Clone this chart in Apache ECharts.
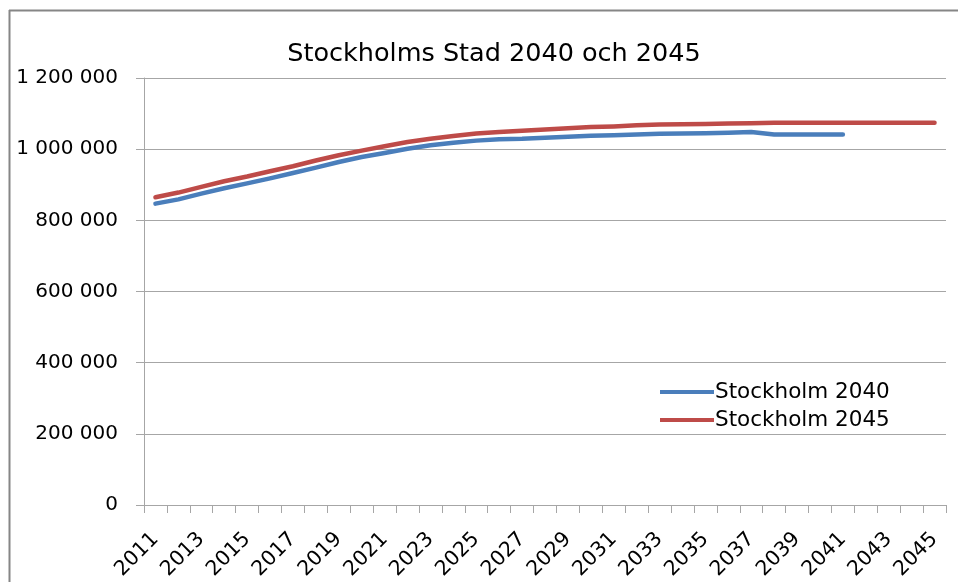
<!DOCTYPE html>
<html>
<head>
<meta charset="utf-8">
<script src="https://cdn.jsdelivr.net/npm/echarts@6/dist/echarts.min.js"></script>
<style>
  html, body { margin: 0; padding: 0; background: #ffffff; }
  #chart { width: 958px; height: 582px; }
</style>
</head>
<body>
<div id="chart"></div>
<script>
// data
var years = [];
for (var y = 2011; y <= 2045; y++) years.push(String(y));

var stockholm2040 = [
  847000, 859000, 875000, 890000, 904000, 918000, 933000, 948000, 964000, 978000,
  989000, 1001000, 1011000, 1018000, 1024000, 1028000, 1029000, 1032000, 1035000, 1038000,
  1039000, 1041000, 1043000, 1044000, 1045000, 1046000, 1048000, 1041000, 1041000, 1041000,
  1041000
];
var stockholm2045 = [
  865000, 878000, 894000, 910000, 923000, 938000, 952000, 968000, 983000, 996000,
  1008000, 1020000, 1029000, 1037000, 1044000, 1048000, 1052000, 1055000, 1059000, 1062000,
  1064000, 1067000, 1069000, 1070000, 1071000, 1072000, 1073000, 1074000, 1074000, 1074000,
  1074000, 1074000, 1074000, 1074000, 1074000
];
var yMax = 1200000;
var yStep = 200000;

var font = "'DejaVu Sans', sans-serif";
var gridColor = "#a6a6a6";
var frameColor = "#868686";

function fmt(v) {
  return String(v).replace(/\B(?=(\d{3})+(?!\d))/g, " ");
}

var chart = echarts.init(document.getElementById("chart"));
chart.setOption({
  backgroundColor: "#ffffff",
  animation: false,
  textStyle: { fontFamily: font },
  title: {
    text: "Stockholms Stad 2040 och 2045",
    left: 489,
    textAlign: "center",
    top: 36,
    textStyle: { fontFamily: font, fontSize: 25.5, fontWeight: "normal", color: "#000000" }
  },
  // chart frame: only the left and top edges fall inside the picture
  graphic: [
    {
      type: "line",
      shape: { x1: 9.5, y1: 10, x2: 9.5, y2: 600 },
      style: { stroke: frameColor, lineWidth: 2 },
      silent: true
    },
    {
      type: "line",
      shape: { x1: 9, y1: 10.5, x2: 970, y2: 10.5 },
      style: { stroke: frameColor, lineWidth: 2 },
      silent: true
    }
  ],
  legend: {
    orient: "vertical",
    left: 655,
    top: 376,
    itemWidth: 54,
    itemHeight: 4,
    itemGap: 6,
    icon: "rect",
    textStyle: { fontFamily: font, fontSize: 21.5, color: "#000000", padding: [0, 0, 0, -4] },
    data: ["Stockholm 2040", "Stockholm 2045"]
  },
  grid: {
    left: 144, right: 12, top: 78, bottom: 77,
    containLabel: false,
    outerBoundsMode: "none"
  },
  xAxis: {
    type: "category",
    data: years,
    boundaryGap: true,
    axisLine: { lineStyle: { color: gridColor, width: 1 } },
    axisTick: { show: true, interval: 0, length: 8, lineStyle: { color: gridColor } },
    axisLabel: {
      interval: 1,
      rotate: 45,
      margin: 31,
      fontFamily: font,
      fontSize: 20.5,
      color: "#000000"
    },
    splitLine: { show: false }
  },
  yAxis: {
    type: "value",
    min: 0,
    max: yMax,
    interval: yStep,
    axisLine: { show: true, lineStyle: { color: gridColor, width: 1 } },
    axisTick: { show: true, length: 8, lineStyle: { color: gridColor } },
    axisLabel: {
      margin: 26,
      fontFamily: font,
      fontSize: 20,
      color: "#000000",
      formatter: fmt
    },
    splitLine: { show: true, lineStyle: { color: gridColor, width: 1 } }
  },
  series: [
    {
      name: "Stockholm 2040",
      type: "line",
      data: stockholm2040,
      showSymbol: false,
      symbol: "none",
      color: "#4a7ebb",
      lineStyle: { width: 4.5, color: "#4a7ebb", cap: "round", join: "round" }
    },
    {
      name: "Stockholm 2045",
      type: "line",
      data: stockholm2045,
      showSymbol: false,
      symbol: "none",
      color: "#be4b48",
      lineStyle: { width: 4.5, color: "#be4b48", cap: "round", join: "round" }
    }
  ]
});
</script>
</body>
</html>
